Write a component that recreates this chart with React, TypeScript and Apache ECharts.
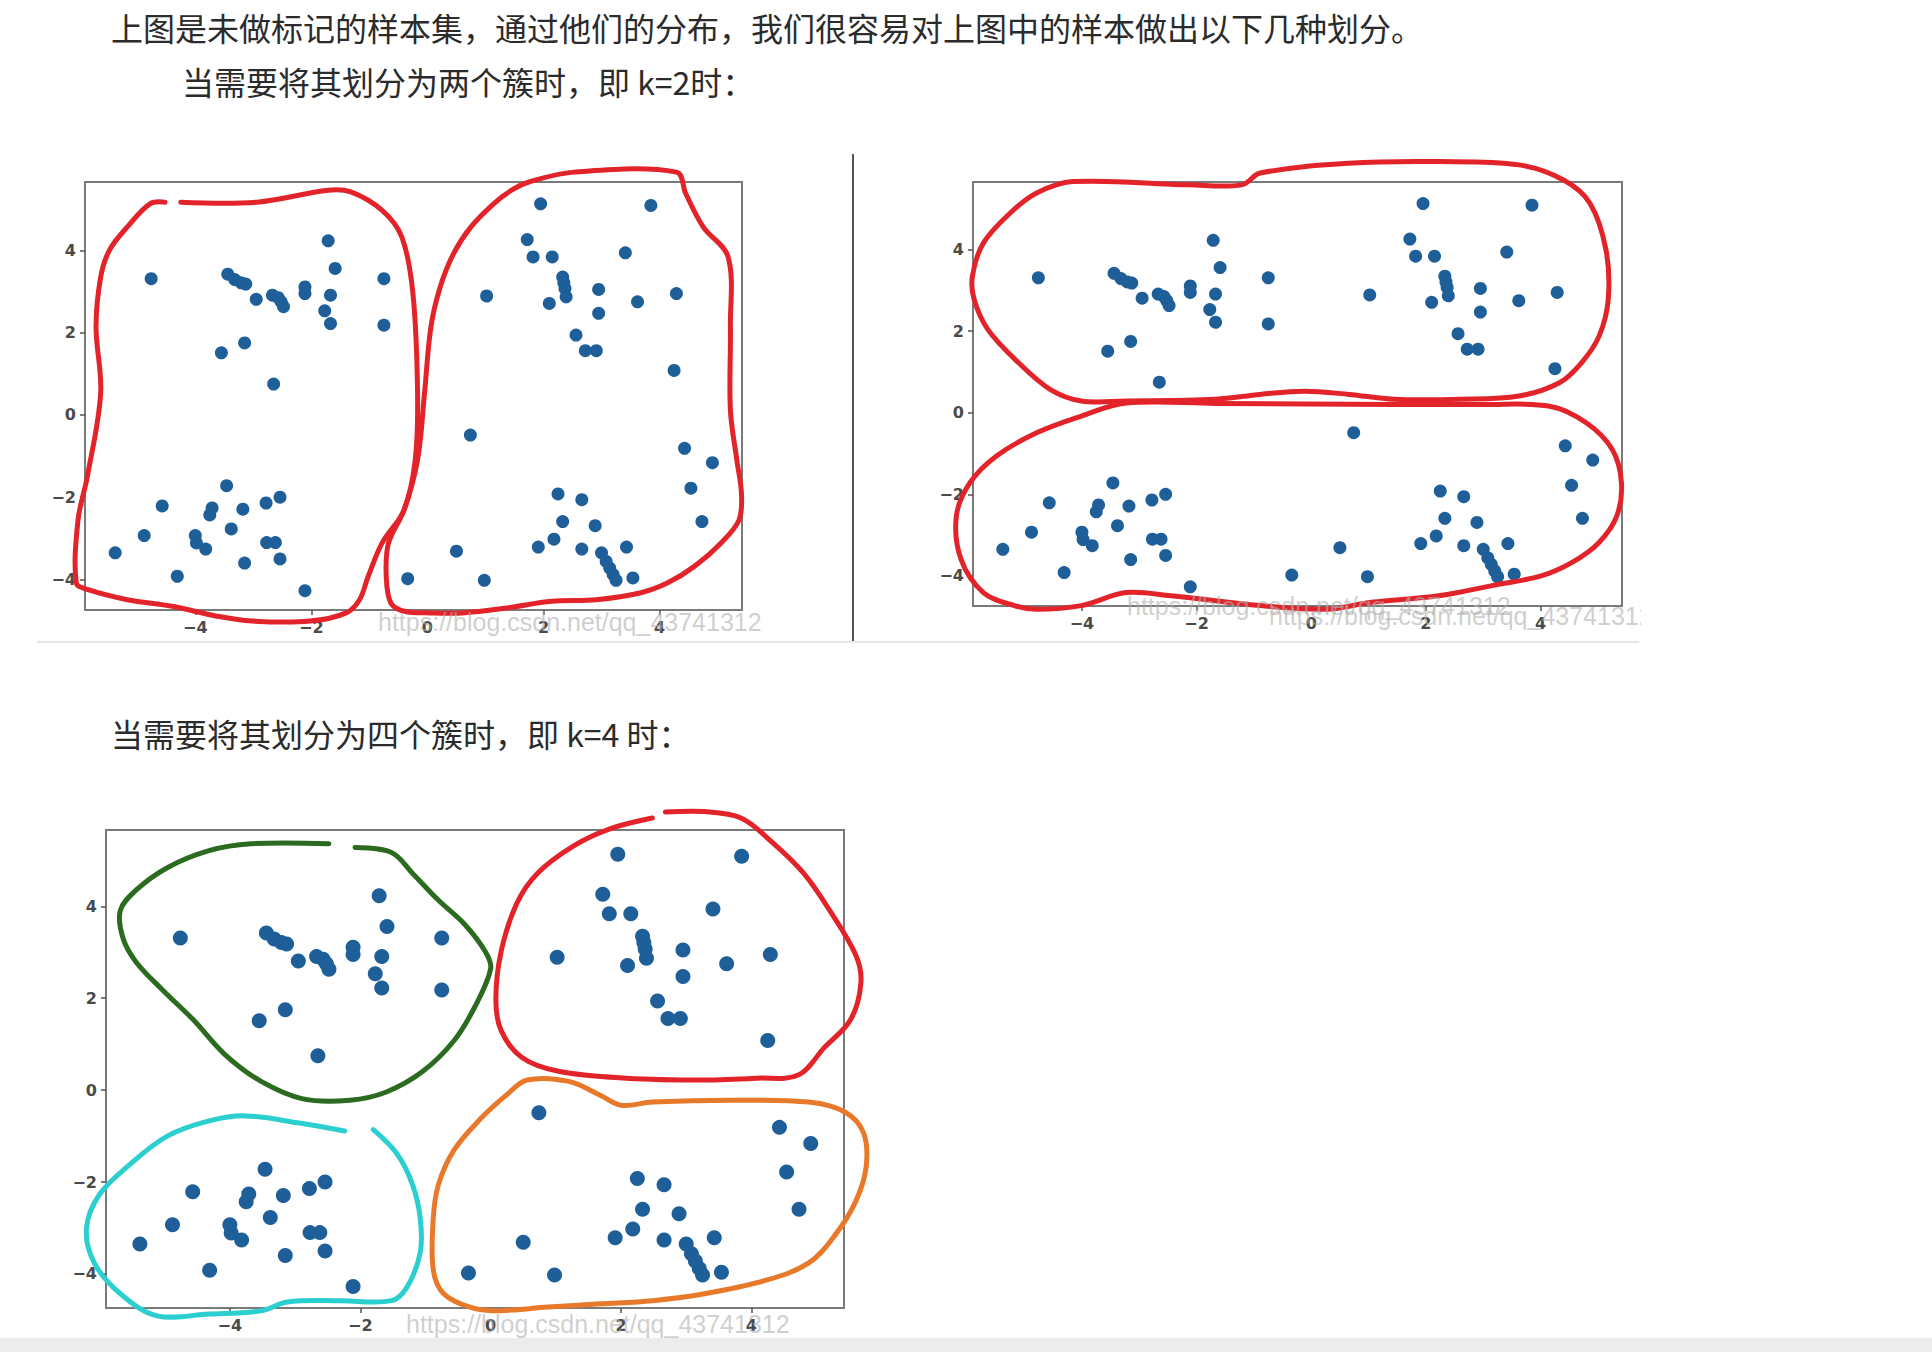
import React, { useEffect, useRef } from "react";
import * as echarts from "echarts";

// ---- data: the unlabeled sample set (same points in all three charts) ----
const pointX = [
  -4.76, -3.44, -3.32, -3.21, -3.13, -2.95, -2.67, -2.57, -2.52, -2.48, -2.11, -2.11, -1.71, -1.59, -1.67, -1.77, -1.67, -0.75, -0.75, -3.55, -3.15, -2.65,
  1.95, 3.85, 1.72, 1.82, 2.15, 2.33, 2.35, 2.37, 2.39, 2.10, 2.95, 2.95, 3.41, 3.62, 4.29, 2.56, 2.72, 2.91, 4.25, 1.02,
  -5.38, -4.88, -4.57, -4.31, -4.0, -3.98, -3.82, -3.71, -3.75, -3.46, -3.38, -3.18, -3.15, -2.78, -2.54, -2.77, -2.62, -2.54, -2.11,
  0.74, -0.34, 0.50, 0.98, 2.25, 2.66, 2.33, 2.89, 1.91, 2.18, 2.66, 3.0, 3.08, 3.14, 3.20, 3.25, 3.43, 3.54, 4.43, 4.91, 4.54, 4.73,
];
const pointY = [
  3.31, 3.42, 3.29, 3.21, 3.18, 2.81, 2.91, 2.85, 2.75, 2.63, 3.11, 2.95, 4.23, 3.56, 2.91, 2.53, 2.22, 3.31, 2.18, 1.51, 1.75, 0.75,
  5.13, 5.09, 4.26, 3.84, 3.84, 3.35, 3.21, 3.07, 2.87, 2.71, 3.05, 2.47, 3.94, 2.75, 2.95, 1.94, 1.56, 1.56, 1.08, 2.89,
  -3.35, -2.93, -2.21, -3.92, -2.93, -3.11, -3.26, -2.26, -2.43, -1.72, -2.77, -2.29, -3.60, -2.14, -2.0, -3.10, -3.10, -3.50, -4.27,
  -0.49, -3.98, -3.31, -4.02, -1.92, -2.06, -2.59, -2.69, -3.21, -3.02, -3.26, -3.35, -3.56, -3.72, -3.88, -4.02, -3.21, -3.96, -0.81, -1.16, -1.78, -2.59,
];

const tickValues = [-4, -2, 0, 2, 4];
const X_MIN = -5.9;
const X_MAX = 5.42;
const Y_MIN = -4.74;
const Y_MAX = 5.66;

// ---- hand-drawn cluster outlines (data coordinates) ----
// k=2, split left/right
const outlineK2LeftX = [-4.25, -2.94, -1.71, -1.32, -0.78, -0.44, -0.25, -0.17, -0.21, -0.40, -0.78, -1.02, -1.17, -1.40, -2.02, -3.02, -3.63, -4.40, -5.17, -5.86, -6.05, -6.02, -5.86, -5.63, -5.71, -5.63, -5.48, -5.17, -4.78, -4.52];
const outlineK2LeftY = [5.17, 5.17, 5.46, 5.42, 4.97, 4.32, 2.95, 0.53, -1.09, -2.30, -3.11, -3.92, -4.49, -4.81, -5.01, -5.01, -4.89, -4.65, -4.49, -4.24, -4.08, -2.55, -1.50, 0.53, 2.14, 3.35, 4.0, 4.57, 5.13, 5.17];
const outlineK2RightX = [1.75, 2.52, 4.29, 4.45, 4.75, 5.18, 5.22, 5.22, 5.33, 5.41, 5.37, 5.06, 4.60, 4.14, 3.68, 2.91, 2.14, 1.37, 0.60, 0.06, -0.40, -0.63, -0.71, -0.67, -0.40, -0.17, -0.05, 0.06, 0.22, 0.45, 0.75, 1.14, 1.45];
const outlineK2RightY = [5.66, 5.90, 5.90, 5.38, 4.57, 3.84, 2.14, 0.12, -1.09, -1.90, -2.55, -3.11, -3.68, -4.08, -4.32, -4.49, -4.53, -4.69, -4.81, -4.81, -4.77, -4.57, -3.92, -3.11, -2.30, -1.09, 0.53, 2.14, 3.11, 3.92, 4.57, 5.13, 5.46];
// k=2, split top/bottom
const outlineK2TopX = [-4.16, -2.14, -1.21, -0.89, 0.66, 2.22, 3.62, 4.40, 4.86, 5.14, 5.18, 5.02, 4.71, 4.32, 3.62, 2.61, 1.44, 0.66, -0.12, -0.89, -1.67, -3.23, -4.01, -4.55, -5.10, -5.64, -5.88, -5.91, -5.72, -5.25, -4.79];
const outlineK2TopY = [5.67, 5.59, 5.59, 5.88, 6.12, 6.16, 6.08, 5.71, 5.14, 4.0, 2.78, 1.88, 1.22, 0.73, 0.41, 0.33, 0.33, 0.45, 0.53, 0.45, 0.33, 0.29, 0.29, 0.57, 1.22, 2.04, 2.78, 3.35, 4.16, 4.90, 5.39];
const outlineK2BottomX = [-3.23, -1.67, 1.44, 3.0, 4.16, 4.79, 5.25, 5.41, 5.33, 5.02, 4.55, 4.01, 3.15, 2.22, 1.05, 0.27, -0.89, -2.45, -3.23, -4.01, -4.79, -5.18, -5.72, -6.11, -6.19, -5.95, -5.49, -4.79, -4.01];
const outlineK2BottomY = [0.24, 0.23, 0.20, 0.20, 0.16, -0.24, -0.90, -1.71, -2.53, -3.18, -3.67, -4.0, -4.24, -4.49, -4.65, -4.82, -4.73, -4.49, -4.41, -4.73, -4.82, -4.73, -4.41, -3.59, -2.53, -1.71, -1.06, -0.49, -0.08];
// k=4
const outlineGreenX = [-2.48, -3.68, -4.32, -4.96, -5.44, -5.68, -5.64, -5.44, -5.04, -4.56, -4.08, -3.52, -2.88, -2.16, -1.60, -1.04, -0.56, -0.24, 0.0, -0.08, -0.40, -0.80, -1.20, -1.52, -2.08];
const outlineGreenY = [5.36, 5.36, 5.21, 4.84, 4.35, 3.91, 3.31, 2.79, 2.19, 1.53, 0.78, 0.19, -0.19, -0.22, -0.04, 0.41, 1.08, 1.82, 2.64, 3.01, 3.61, 4.13, 4.72, 5.17, 5.28];
const outlineRedX = [2.68, 3.28, 3.84, 4.32, 4.80, 5.20, 5.60, 5.68, 5.52, 5.12, 4.72, 4.08, 3.28, 2.08, 1.04, 0.48, 0.16, 0.08, 0.16, 0.40, 0.72, 1.28, 1.84, 2.48];
const outlineRedY = [6.05, 6.06, 5.92, 5.39, 4.72, 3.91, 2.94, 2.34, 1.53, 0.93, 0.33, 0.26, 0.22, 0.26, 0.41, 0.71, 1.30, 1.97, 3.01, 4.06, 4.72, 5.32, 5.69, 5.92];
const outlineCyanX = [-2.24, -2.96, -3.76, -4.32, -4.96, -5.52, -6.0, -6.2, -6.08, -5.68, -5.12, -4.32, -3.52, -3.12, -2.32, -1.52, -1.28, -1.08, -1.08, -1.20, -1.44, -1.80];
const outlineCyanY = [-0.89, -0.71, -0.56, -0.67, -1.0, -1.60, -2.27, -3.01, -3.76, -4.43, -4.91, -4.87, -4.80, -4.61, -4.58, -4.58, -4.28, -3.53, -2.79, -2.05, -1.38, -0.86];
const outlineOrangeX = [0.56, 1.20, 1.68, 2.0, 2.48, 3.68, 4.88, 5.44, 5.72, 5.76, 5.60, 5.28, 4.88, 4.24, 3.28, 2.48, 1.68, 0.88, 0.08, -0.32, -0.72, -0.88, -0.88, -0.80, -0.56, -0.16, 0.24];
const outlineOrangeY = [0.22, 0.19, -0.11, -0.33, -0.26, -0.22, -0.26, -0.48, -0.93, -1.67, -2.42, -3.16, -3.76, -4.13, -4.43, -4.58, -4.65, -4.72, -4.80, -4.72, -4.43, -3.91, -2.79, -2.05, -1.30, -0.63, -0.11];

const textLine1 = "上图是未做标记的样本集，通过他们的分布，我们很容易对上图中的样本做出以下几种划分。";
const textLine2 = "当需要将其划分为两个簇时，即 k=2时：";
const textLine3 = "当需要将其划分为四个簇时，即 k=4 时：";
const watermark = "https://blog.csdn.net/qq_43741312";

const RED = "#e3232a";
const GREEN = "#2a6b1f";
const CYAN = "#2ccfcf";
const ORANGE = "#e8792b";
const DOT = "#1f5f99";

const zip = (xs: number[], ys: number[]) => xs.map((x, i) => [x, ys[i]]);
const fmt = (v: number) => (v < 0 ? "\u2212" + Math.abs(v) : String(v));

export default function App() {
  const ref = useRef<HTMLDivElement>(null);
  useEffect(() => {
    if (!ref.current) return;
    const chart = echarts.init(ref.current, null, { renderer: "svg" });

    const grids = [
      { left: 85, top: 182, width: 657, height: 428 },
      { left: 973, top: 182, width: 649, height: 424 },
      { left: 106, top: 830, width: 738, height: 478 },
    ];
    const axisCommon = {
      type: "value" as const,
      splitLine: { show: false },
      axisLine: { show: false, onZero: false },
      axisTick: { show: true, inside: false, length: 5, customValues: tickValues, lineStyle: { color: "#555", width: 1.5 } },
      axisLabel: {
        customValues: tickValues,
        formatter: fmt,
        color: "#4a4a4a",
        fontFamily: "DejaVu Sans",
        fontWeight: "bold",
        fontSize: 16,
        margin: 9,
      },
    };
    const xAxis = grids.map((_, i) => ({ ...axisCommon, gridIndex: i, min: X_MIN, max: X_MAX }));
    const yAxis = grids.map((_, i) => ({ ...axisCommon, gridIndex: i, min: Y_MIN, max: Y_MAX }));

    const scatter = (i: number, size: number) => ({
      type: "scatter",
      xAxisIndex: i,
      yAxisIndex: i,
      symbolSize: size,
      itemStyle: { color: DOT, opacity: 1 },
      data: zip(pointX, pointY),
      z: 2,
    });
    const outline = (i: number, xs: number[], ys: number[], color: string, closed: boolean) => ({
      type: "custom",
      xAxisIndex: i,
      yAxisIndex: i,
      data: [[0, 0]],
      clip: false,
      silent: true,
      z: 3,
      renderItem: (_params: any, api: any) => {
        const pts = xs.map((x, k) => api.coord([x, ys[k]]));
        return {
          type: closed ? "polygon" : "polyline",
          shape: { points: pts, smooth: 0.35 },
          style: { stroke: color, lineWidth: 5, fill: "none", lineJoin: "round", lineCap: "round" },
        };
      },
    });

    const series = [
      scatter(0, 13),
      outline(0, outlineK2LeftX, outlineK2LeftY, RED, false),
      outline(0, outlineK2RightX, outlineK2RightY, RED, true),
      scatter(1, 13),
      outline(1, outlineK2TopX, outlineK2TopY, RED, true),
      outline(1, outlineK2BottomX, outlineK2BottomY, RED, true),
      scatter(2, 15),
      outline(2, outlineGreenX, outlineGreenY, GREEN, false),
      outline(2, outlineRedX, outlineRedY, RED, false),
      outline(2, outlineCyanX, outlineCyanY, CYAN, false),
      outline(2, outlineOrangeX, outlineOrangeY, ORANGE, true),
    ];

    const txtStyle = (text: string, x: number, y: number) => ({
      type: "text",
      x,
      y,
      style: {
        text,
        fill: "#2b2b2b",
        font: '32px "Noto Sans CJK SC"',
        verticalAlign: "middle",
      },
    });
    const wm = (x: number, y: number) => ({
      type: "text",
      x,
      y,
      z: 10,
      style: {
        text: watermark,
        fill: "rgba(175,175,175,0.6)",
        font: '25px "Liberation Sans"',
        verticalAlign: "middle",
      },
    });

    chart.setOption({
      animation: false,
      backgroundColor: "#ffffff",
      grid: grids.map((g) => ({ ...g, show: true, borderColor: "#7a7a7a", borderWidth: 2, backgroundColor: "transparent" })),
      xAxis,
      yAxis,
      series,
      graphic: [
        txtStyle(textLine1, 111, 27),
        txtStyle(textLine2, 182, 81),
        txtStyle(textLine3, 111, 733),
        { type: "line", shape: { x1: 853, y1: 154, x2: 853, y2: 641 }, style: { stroke: "#555", lineWidth: 2 } },
        { type: "line", shape: { x1: 37, y1: 642, x2: 1639, y2: 642 }, style: { stroke: "#e6e6e6", lineWidth: 2 } },
        wm(378, 622),
        wm(1127, 606),
        wm(1269, 616),
        wm(406, 1324),
        { type: "rect", z: 20, shape: { x: 1641, y: 560, width: 200, height: 90 }, style: { fill: "#ffffff" } },
        { type: "rect", z: 20, shape: { x: 0, y: 1338, width: 1932, height: 14 }, style: { fill: "#ececec" } },
      ],
    });
    return () => chart.dispose();
  }, []);

  return <div ref={ref} style={{ position: "fixed", left: 0, top: 0, width: 1932, height: 1352, background: "#fff" }} />;
}
